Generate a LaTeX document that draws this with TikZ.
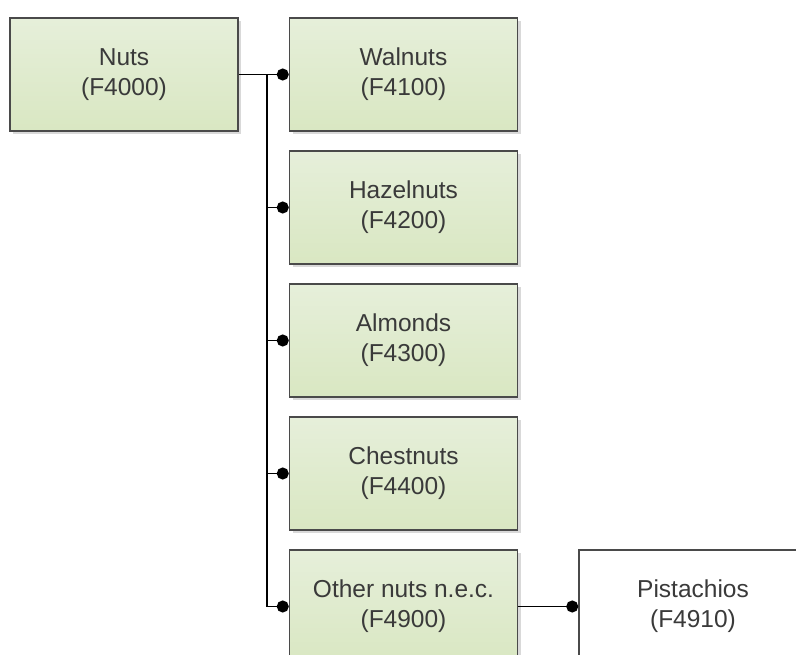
\documentclass[tikz,border=0pt]{standalone}
\usepackage{fontspec}
\setmainfont{Liberation Sans}
\usetikzlibrary{arrows.meta,shadows}

\definecolor{boxline}{HTML}{4A4A4A}
\definecolor{boxtop}{HTML}{E6EFDA}
\definecolor{boxbot}{HTML}{D9E7C2}
\definecolor{txtgray}{HTML}{3A3A3A}

\tikzset{
	item/.style={draw=boxline, line width=1.5pt, top color=boxtop, bottom color=boxbot,
		minimum width=228pt, minimum height=113pt, inner sep=0pt, align=center,
		text=txtgray, font=\fontsize{24.5}{30}\selectfont,
		drop shadow={shadow xshift=3pt, shadow yshift=-3pt, fill=black!25, opacity=0.6}},
	leaf/.style={item, top color=white, bottom color=white},
	link/.style={line width=1.6pt, -{Circle[length=12pt]}},
}

\begin{document}
\begin{tikzpicture}[x=1pt, y=-1pt]
	\useasboundingbox (0, 0) rectangle (796, 655);
	\clip (0, 0) rectangle (796, 655);
	\node[item] (nuts) at (124, 74.5) {Nuts\\(F4000)};
	\node[item] (walnuts) at (403.5, 74.5) {Walnuts\\(F4100)};
	\node[item] (hazel) at (403.5, 207.5) {Hazelnuts\\(F4200)};
	\node[item] (almonds) at (403.5, 340.5) {Almonds\\(F4300)};
	\node[item] (chest) at (403.5, 473.5) {Chestnuts\\(F4400)};
	\node[item] (other) at (403.5, 606.5) {Other nuts n.e.c.\\(F4900)};
	\node[leaf] (pist) at (693, 606.5) {Pistachios\\(F4910)};
	\coordinate (trunk) at (266.7, 74.5);
	\draw[link] (nuts.east) -- (trunk) |- (other.west);
	\foreach \n in {walnuts, hazel, almonds, chest}
		\draw[link] (trunk |- \n.west) -- (\n.west);
	\draw[link] (other.east) -- (pist.west);
\end{tikzpicture}
\end{document}
